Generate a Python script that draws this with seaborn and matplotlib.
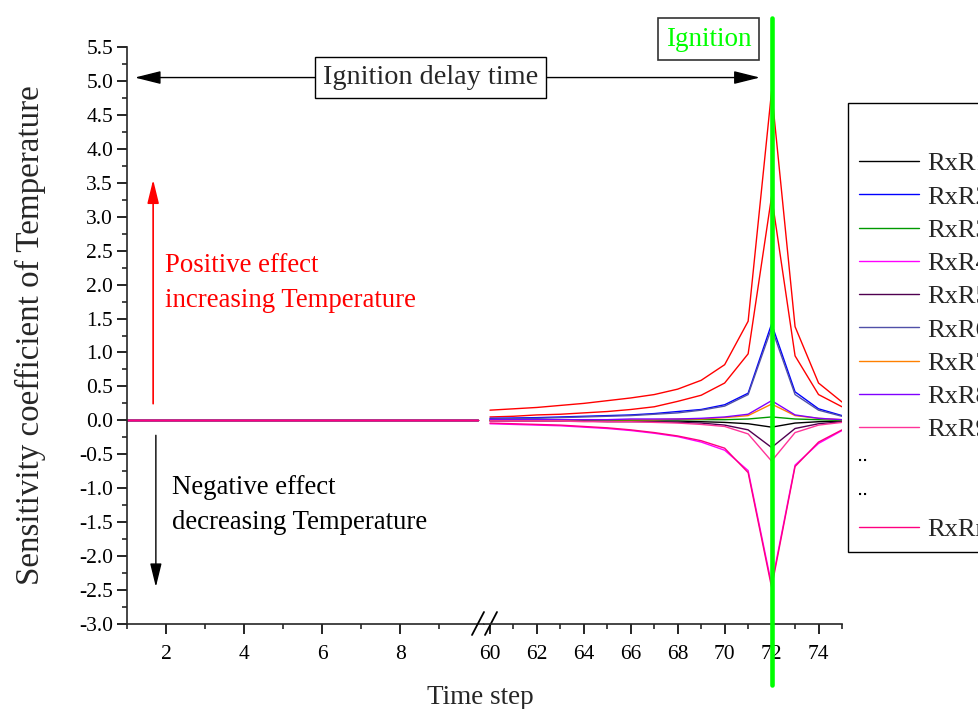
import matplotlib
matplotlib.use("Agg")
import matplotlib.pyplot as plt
import seaborn as sns
import pandas as pd
from matplotlib.lines import Line2D
from matplotlib.ticker import MultipleLocator, FixedLocator, FormatStrFormatter

# ---------------- data ----------------
series_order = ["RxR10", "RxR11", "RxR1", "RxR2", "RxR3", "RxR4", "RxR5",
                "RxR6", "RxR7", "RxR8", "RxR9", "RxRn"]
legend_names = ["RxR1", "RxR2", "RxR3", "RxR4", "RxR5", "RxR6", "RxR7",
                "RxR8", "RxR9", "..", "..", "RxRn"]
series_colors = ["#FF0000", "#FF0000", "#000000", "#0000FF", "#009900", "#FF00FF",
                 "#500050", "#5050A8", "#FF8000", "#8000FF", "#FF3399", "#FF0080"]

left_time = [1, 2, 3, 4, 5, 6, 7, 8, 9, 10]
left_values = [0.0, 0.0, 0.0, 0.0, 0.0, 0.0, 0.0, 0.0, 0.0, 0.0]

right_time = [60, 61, 62, 63, 64, 65, 66, 67, 68, 69, 70, 71, 72, 73, 74, 75]
rxr10 = [0.15, 0.17, 0.19, 0.22, 0.25, 0.29, 0.33, 0.38, 0.46, 0.59, 0.82, 1.46, 4.85, 1.38, 0.55, 0.27]
rxr11 = [0.05, 0.06, 0.08, 0.09, 0.11, 0.13, 0.16, 0.20, 0.28, 0.37, 0.55, 0.98, 3.30, 0.95, 0.38, 0.20]
rxr1 = [0.00, 0.00, 0.00, 0.00, 0.00, -0.01, -0.01, -0.01, -0.01, -0.02, -0.03, -0.05, -0.10, -0.04, -0.02, -0.01]
rxr2 = [0.03, 0.035, 0.04, 0.05, 0.06, 0.07, 0.08, 0.10, 0.13, 0.16, 0.23, 0.40, 1.42, 0.42, 0.17, 0.07]
rxr3 = [0.00, 0.00, 0.00, 0.00, 0.00, 0.00, 0.00, 0.01, 0.01, 0.01, 0.01, 0.02, 0.05, 0.02, 0.01, 0.00]
rxr4 = [-0.05, -0.06, -0.07, -0.08, -0.10, -0.12, -0.15, -0.19, -0.24, -0.32, -0.44, -0.74, -2.42, -0.66, -0.34, -0.15]
rxr5 = [-0.01, -0.01, -0.01, -0.01, -0.01, -0.02, -0.02, -0.02, -0.03, -0.04, -0.07, -0.14, -0.40, -0.12, -0.05, -0.02]
rxr6 = [0.02, 0.025, 0.03, 0.04, 0.05, 0.06, 0.07, 0.09, 0.11, 0.15, 0.21, 0.38, 1.36, 0.38, 0.15, 0.06]
rxr7 = [0.00, 0.00, 0.00, 0.00, 0.01, 0.01, 0.01, 0.01, 0.02, 0.02, 0.04, 0.07, 0.24, 0.07, 0.03, 0.01]
rxr8 = [0.01, 0.01, 0.01, 0.01, 0.01, 0.01, 0.02, 0.02, 0.02, 0.03, 0.05, 0.09, 0.29, 0.08, 0.03, 0.01]
rxr9 = [-0.01, -0.01, -0.01, -0.01, -0.02, -0.02, -0.02, -0.03, -0.04, -0.06, -0.09, -0.20, -0.60, -0.18, -0.07, -0.03]
rxrn = [-0.04, -0.05, -0.06, -0.07, -0.09, -0.11, -0.14, -0.18, -0.23, -0.30, -0.41, -0.77, -2.46, -0.68, -0.32, -0.14]
right_values = [rxr10, rxr11, rxr1, rxr2, rxr3, rxr4, rxr5, rxr6, rxr7, rxr8, rxr9, rxrn]

ignition_time = 72
y_ticks_step = 0.5
left_major_ticks = [2, 4, 6, 8]
left_minor_ticks = [1, 3, 5, 7, 9]
right_major_ticks = [60, 62, 64, 66, 68, 70, 72, 74]
right_minor_ticks = [61, 63, 65, 67, 69, 71, 73, 75]

# ---------------- frames ----------------
left_rows, right_rows = [], []
for name, vals in zip(series_order, right_values):
    for t, v in zip(left_time, left_values):
        left_rows.append((t, v, name))
    for t, v in zip(right_time, vals):
        right_rows.append((t, v, name))
df_left = pd.DataFrame(left_rows, columns=["time", "value", "series"])
df_right = pd.DataFrame(right_rows, columns=["time", "value", "series"])
palette = dict(zip(series_order, series_colors))

# ---------------- style ----------------
sns.set_style("ticks")
plt.rcParams["font.family"] = ["Liberation Serif", "DejaVu Serif"]
plt.rcParams["axes.unicode_minus"] = False
plt.rcParams["mathtext.fontset"] = "stix"

W, H = 979, 709
fig = plt.figure(figsize=(W / 100, H / 100), dpi=100)
axL = fig.add_axes([127 / W, 85 / H, 357 / W, 577 / H])
axR = fig.add_axes([484 / W, 85 / H, 358 / W, 577 / H], sharey=axL)

for ax, d in ((axL, df_left), (axR, df_right)):
    sns.lineplot(data=d, x="time", y="value", hue="series", hue_order=series_order,
                 palette=palette, ax=ax, legend=False, linewidth=1.0,
                 estimator=None, sort=True)
    ax.set_xlabel("")
    ax.set_ylabel("")

axL.set_xlim(1, 10.15)
axR.set_xlim(59.745, 75.0)
axL.set_ylim(-3.0, 5.5)

for sp in ("top", "right"):
    axL.spines[sp].set_visible(False)
for sp in ("top", "right", "left"):
    axR.spines[sp].set_visible(False)
for ax in (axL, axR):
    for sp in ax.spines.values():
        sp.set_linewidth(1.2)

axL.xaxis.set_major_locator(FixedLocator(left_major_ticks))
axL.xaxis.set_minor_locator(FixedLocator(left_minor_ticks))
axR.xaxis.set_major_locator(FixedLocator(right_major_ticks))
axR.xaxis.set_minor_locator(FixedLocator(right_minor_ticks))
axL.yaxis.set_major_locator(MultipleLocator(y_ticks_step))
axL.yaxis.set_minor_locator(MultipleLocator(y_ticks_step / 2))
axL.yaxis.set_major_formatter(FormatStrFormatter("%.1f"))

for ax in (axL, axR):
    ax.tick_params(which="major", direction="out", length=7, width=1.2,
                   labelsize=15.5, colors="black", pad=3)
    ax.tick_params(which="minor", direction="out", length=3.5, width=1.2)
    ax.tick_params(axis="x", which="major", pad=8)
axR.tick_params(axis="y", which="both", left=False, labelleft=False)

# axis break marks
for x0 in (-12, 1):
    axR.plot([(x0) / 358, (x0 + 12) / 358], [-11 / 577, 12 / 577],
             transform=axR.transAxes, color="black", lw=1.3, clip_on=False)

# ignition line
axR.axvline(ignition_time, ymin=-0.106, ymax=1.05, color="#00FF00", lw=3.3,
            clip_on=False, zorder=6)

# labels
axL.set_ylabel("Sensitivity coefficient of Temperature", fontsize=23.8, labelpad=24)
fig.text(480 / W, 1 - 697 / H, "Time step", fontsize=19.5, ha="center", va="center")

# ignition delay arrow and boxes
axR.annotate("", xy=(71.5, 5.05), xycoords="data", xytext=(1.2, 5.05),
             textcoords=axL.transData, annotation_clip=False,
             arrowprops=dict(arrowstyle="<|-|>,head_length=0.8,head_width=0.2",
                             color="black", lw=1.0, mutation_scale=20,
                             shrinkA=0, shrinkB=0), zorder=3)
fig.text(430.5 / W, 1 - 77.5 / H, "Ignition delay time", fontsize=20.3,
         ha="center", va="center", zorder=10,
         bbox=dict(boxstyle="square,pad=0.28", fc="white", ec="black", lw=1.0))
fig.text(708.5 / W, 1 - 39 / H, "Ignition", fontsize=19.5, color="#00FF00",
         ha="center", va="center", zorder=10,
         bbox=dict(boxstyle="square,pad=0.3", fc="white", ec="#333333", lw=1.2))

# effect arrows
axL.annotate("", xy=(1.67, 3.545), xytext=(1.67, 0.245),
             arrowprops=dict(arrowstyle="-|>,head_length=0.9,head_width=0.22",
                             color="red", lw=1.2, mutation_scale=16,
                             shrinkA=0, shrinkB=0))
axL.annotate("", xy=(1.74, -2.455), xytext=(1.74, -0.22),
             arrowprops=dict(arrowstyle="-|>,head_length=0.9,head_width=0.22",
                             color="black", lw=1.0, mutation_scale=16,
                             shrinkA=0, shrinkB=0))
axL.text(1.97, 2.02, "Positive effect\nincreasing Temperature", color="red",
         fontsize=19.3, ha="left", va="center", linespacing=1.5)
axL.text(2.15, -1.25, "Negative effect\ndecreasing Temperature", color="black",
         fontsize=19.3, ha="left", va="center", linespacing=1.5)

# legend
handles, labels = [], []
for name in legend_names:
    if name == "..":
        handles.append(Line2D([], [], color="black", lw=1.5,
                              linestyle=(0, (1.0, 1.4, 1.0, 200))))
        labels.append("")
    else:
        handles.append(Line2D([], [], color=palette[name], lw=1.0))
        labels.append(name)
leg = fig.legend(handles, labels, loc="upper left", title=" ", title_fontsize=22,
                 bbox_to_anchor=(848 / W, 1 - 102.7 / H), bbox_transform=fig.transFigure,
                 frameon=True, fancybox=False, edgecolor="black", fontsize=19,
                 handlelength=2.3, handletextpad=0.3, borderpad=0.4,
                 labelspacing=0.37, borderaxespad=0)
leg.get_frame().set_linewidth(1.0)
leg.get_frame().set_alpha(1)

fig.savefig("out.png", dpi=100)
